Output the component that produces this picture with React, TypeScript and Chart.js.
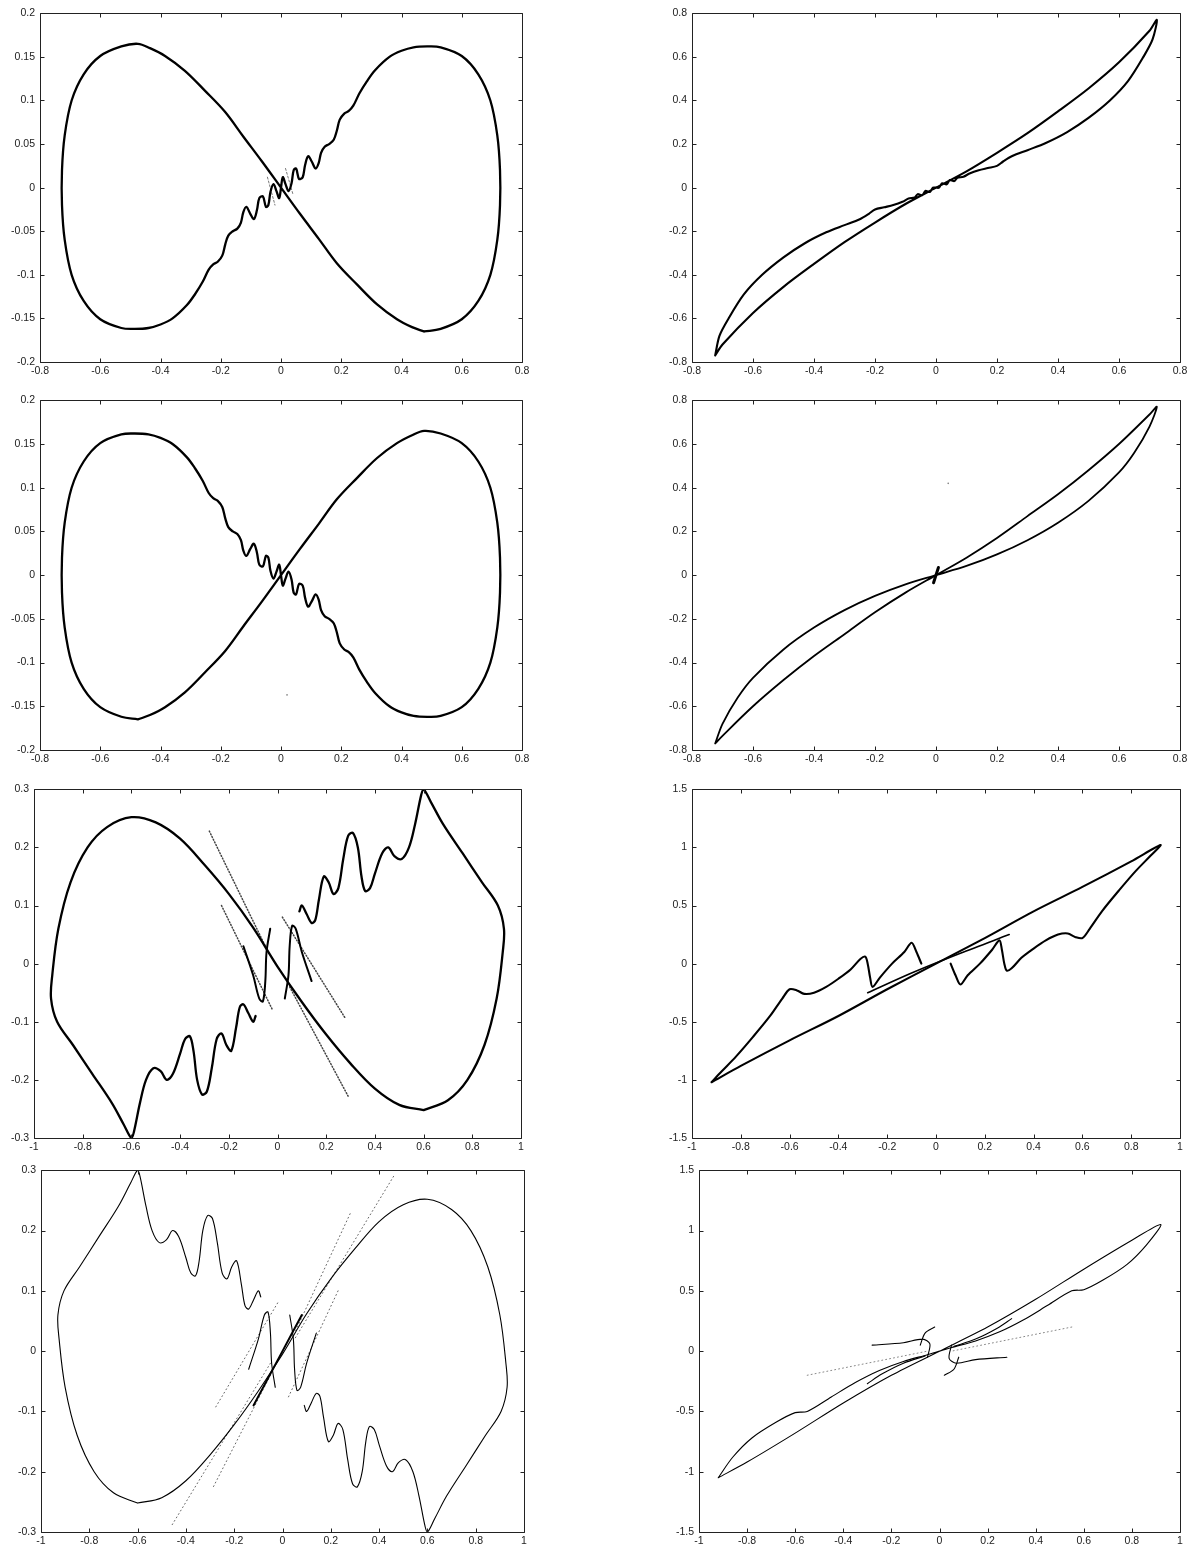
import { useEffect, useRef } from "react";
import { Chart, registerables } from "chart.js";

Chart.register(...registerables);

type Pt = [number, number];

// Axis ranges: [min, max, step]
const xRangeNarrow = [-0.8, 0.8, 0.2];
const xRangeWide = [-1, 1, 0.2];
const yRangeSmall = [-0.2, 0.2, 0.05];
const yRangeTilt = [-0.8, 0.8, 0.2];
const yRangeMid = [-0.3, 0.3, 0.1];
const yRangeLarge = [-1.5, 1.5, 0.5];

// Row 1, left: figure-eight orbit (x, y)
const orbitA: Pt[] = [
  [0.475, -0.165], [0.435, -0.16], [0.385, -0.151], [0.319, -0.134], [0.252, -0.111], [0.186, -0.087],
  [0.126, -0.059], [0.063, -0.03], [0, 0], [-0.063, 0.03], [-0.126, 0.059], [-0.186, 0.087],
  [-0.252, 0.111], [-0.319, 0.134], [-0.385, 0.151], [-0.435, 0.16], [-0.475, 0.165],
  [-0.53, 0.162], [-0.6, 0.151], [-0.655, 0.13], [-0.695, 0.1], [-0.718, 0.06], [-0.727, 0.02],
  [-0.727, -0.02], [-0.718, -0.06], [-0.695, -0.1], [-0.655, -0.13], [-0.6, -0.151], [-0.53, -0.161],
  [-0.485, -0.162], [-0.44, -0.161], [-0.4, -0.157], [-0.36, -0.15], [-0.313, -0.135],
  [-0.285, -0.122], [-0.26, -0.108], [-0.24, -0.094], [-0.225, -0.088], [-0.21, -0.085], [-0.195, -0.078],
  [-0.185, -0.065], [-0.175, -0.055], [-0.16, -0.05], [-0.145, -0.047], [-0.133, -0.04], [-0.125, -0.028],
  [-0.115, -0.022], [-0.102, -0.03], [-0.09, -0.036], [-0.08, -0.026], [-0.072, -0.012], [-0.06, -0.01],
  [-0.05, -0.022], [-0.042, -0.02], [-0.035, -0.005], [-0.025, 0.004], [-0.015, -0.004], [-0.006, -0.012],
  [0, 0], [0.006, 0.012], [0.015, 0.004], [0.025, -0.004], [0.035, 0.005], [0.042, 0.02], [0.05, 0.022],
  [0.06, 0.01], [0.072, 0.012], [0.08, 0.026], [0.09, 0.036], [0.102, 0.03], [0.115, 0.022], [0.125, 0.028],
  [0.133, 0.04], [0.145, 0.047], [0.16, 0.05], [0.175, 0.055], [0.185, 0.065], [0.195, 0.078], [0.21, 0.085],
  [0.225, 0.088], [0.24, 0.094], [0.26, 0.108], [0.285, 0.122], [0.313, 0.135], [0.36, 0.15], [0.4, 0.157],
  [0.44, 0.161], [0.485, 0.162], [0.53, 0.161], [0.6, 0.151], [0.655, 0.13], [0.695, 0.1], [0.718, 0.06],
  [0.727, 0.02], [0.727, -0.02], [0.718, -0.06], [0.695, -0.1], [0.655, -0.13], [0.6, -0.151], [0.53, -0.162],
  [0.475, -0.165],
];
const tracesA: Pt[][] = [
  [[-0.045, 0.012], [-0.02, -0.02]],
  [[0.015, 0.022], [0.04, -0.008]],
];

// Row 1, right: velocity-displacement loop
const orbitB: Pt[] = [
  [-0.724, -0.77], [-0.71, -0.68], [-0.68, -0.6], [-0.63, -0.49], [-0.57, -0.4], [-0.5, -0.32],
  [-0.43, -0.255], [-0.36, -0.205], [-0.3, -0.172], [-0.25, -0.145], [-0.22, -0.12], [-0.2, -0.1],
  [-0.17, -0.09], [-0.14, -0.08], [-0.11, -0.065], [-0.09, -0.05], [-0.07, -0.045], [-0.06, -0.03],
  [-0.045, -0.035], [-0.035, -0.015], [-0.02, -0.02], [-0.01, 0], [0, 0], [0.01, 0], [0.02, 0.02],
  [0.035, 0.015], [0.045, 0.035], [0.06, 0.03], [0.07, 0.045], [0.09, 0.05], [0.11, 0.065], [0.14, 0.08],
  [0.17, 0.09], [0.2, 0.1], [0.22, 0.12], [0.25, 0.145], [0.3, 0.172], [0.36, 0.205], [0.43, 0.255],
  [0.5, 0.32], [0.57, 0.4], [0.63, 0.49], [0.68, 0.6], [0.71, 0.68], [0.724, 0.77], [0.7, 0.72],
  [0.6, 0.575], [0.5, 0.455], [0.4, 0.35], [0.3, 0.25], [0.2, 0.16], [0.1, 0.075], [0, 0], [-0.1, -0.075],
  [-0.2, -0.16], [-0.3, -0.25], [-0.4, -0.35], [-0.5, -0.455], [-0.6, -0.575], [-0.7, -0.72], [-0.724, -0.77],
];

// Row 2, left: mirrored figure-eight
const orbitC: Pt[] = [
  [-0.475, -0.165], [-0.435, -0.16], [-0.385, -0.151], [-0.319, -0.134], [-0.252, -0.111], [-0.186, -0.087],
  [-0.126, -0.059], [-0.063, -0.03], [0, 0], [0.063, 0.03], [0.126, 0.059], [0.186, 0.087],
  [0.252, 0.111], [0.319, 0.134], [0.385, 0.151], [0.435, 0.16], [0.475, 0.165],
  [0.53, 0.162], [0.6, 0.151], [0.655, 0.13], [0.695, 0.1], [0.718, 0.06], [0.727, 0.02],
  [0.727, -0.02], [0.718, -0.06], [0.695, -0.1], [0.655, -0.13], [0.6, -0.151], [0.53, -0.161],
  [0.485, -0.162], [0.44, -0.161], [0.4, -0.157], [0.36, -0.15], [0.313, -0.135],
  [0.285, -0.122], [0.26, -0.108], [0.24, -0.094], [0.225, -0.088], [0.21, -0.085], [0.195, -0.078],
  [0.185, -0.065], [0.175, -0.055], [0.16, -0.05], [0.145, -0.047], [0.133, -0.04], [0.125, -0.028],
  [0.115, -0.022], [0.102, -0.03], [0.09, -0.036], [0.08, -0.026], [0.072, -0.012], [0.06, -0.01],
  [0.05, -0.022], [0.042, -0.02], [0.035, -0.005], [0.025, 0.004], [0.015, -0.004], [0.006, -0.012],
  [0, 0], [-0.006, 0.012], [-0.015, 0.004], [-0.025, -0.004], [-0.035, 0.005], [-0.042, 0.02], [-0.05, 0.022],
  [-0.06, 0.01], [-0.072, 0.012], [-0.08, 0.026], [-0.09, 0.036], [-0.102, 0.03], [-0.115, 0.022], [-0.125, 0.028],
  [-0.133, 0.04], [-0.145, 0.047], [-0.16, 0.05], [-0.175, 0.055], [-0.185, 0.065], [-0.195, 0.078], [-0.21, 0.085],
  [-0.225, 0.088], [-0.24, 0.094], [-0.26, 0.108], [-0.285, 0.122], [-0.313, 0.135], [-0.36, 0.15], [-0.4, 0.157],
  [-0.44, 0.161], [-0.485, 0.162], [-0.53, 0.161], [-0.6, 0.151], [-0.655, 0.13], [-0.695, 0.1], [-0.718, 0.06],
  [-0.727, 0.02], [-0.727, -0.02], [-0.718, -0.06], [-0.695, -0.1], [-0.655, -0.13], [-0.6, -0.151], [-0.53, -0.162],
  [-0.475, -0.165],
];
const strayC: Pt[] = [[0.02, -0.137]];

// Row 2, right: smooth loop
const orbitD: Pt[] = [
  [-0.724, -0.77], [-0.7, -0.68], [-0.65, -0.56], [-0.6, -0.47], [-0.5, -0.34], [-0.4, -0.24],
  [-0.3, -0.16], [-0.2, -0.095], [-0.1, -0.042], [0, 0], [0.1, 0.042], [0.2, 0.095], [0.3, 0.16],
  [0.4, 0.24], [0.5, 0.34], [0.6, 0.47], [0.65, 0.56], [0.7, 0.68], [0.724, 0.77], [0.7, 0.735],
  [0.6, 0.6], [0.5, 0.48], [0.4, 0.37], [0.3, 0.27], [0.2, 0.17], [0.1, 0.08], [0, 0], [-0.1, -0.08],
  [-0.2, -0.17], [-0.3, -0.27], [-0.4, -0.37], [-0.5, -0.48], [-0.6, -0.6], [-0.7, -0.735], [-0.724, -0.77],
];
const centreD: Pt[] = [[-0.008, -0.035], [0.008, 0.035]];
const strayD: Pt[] = [[0.04, 0.42]];

// Row 3, left: perturbed figure-eight
const orbitE: Pt[] = [
  [0.6, -0.252], [0.5, -0.243], [0.4, -0.215], [0.3, -0.172], [0.2, -0.122], [0.1, -0.066], [0.0, -0.005],
  [-0.1, 0.062], [-0.2, 0.12], [-0.3, 0.17], [-0.4, 0.215], [-0.5, 0.243], [-0.6, 0.252], [-0.7, 0.235],
  [-0.78, 0.2], [-0.85, 0.14], [-0.9, 0.06], [-0.925, -0.02], [-0.93, -0.06], [-0.905, -0.1], [-0.84, -0.14],
  [-0.76, -0.19], [-0.68, -0.24], [-0.63, -0.278], [-0.6, -0.3], [-0.59, -0.29], [-0.565, -0.24],
  [-0.54, -0.2], [-0.51, -0.18], [-0.48, -0.185], [-0.455, -0.2], [-0.43, -0.19], [-0.4, -0.155],
  [-0.38, -0.13], [-0.36, -0.125], [-0.345, -0.15], [-0.33, -0.2], [-0.31, -0.225], [-0.29, -0.22],
  [-0.27, -0.18], [-0.25, -0.13], [-0.23, -0.12], [-0.21, -0.14], [-0.19, -0.15], [-0.17, -0.11],
  [-0.155, -0.075], [-0.14, -0.07], [-0.12, -0.085], [-0.1, -0.1], [-0.09, -0.09],
];
const orbitE2: Pt[] = [
  [0.09, 0.09], [0.1, 0.1], [0.12, 0.085], [0.14, 0.07], [0.155, 0.075], [0.17, 0.11], [0.19, 0.15],
  [0.21, 0.14], [0.23, 0.12], [0.25, 0.13], [0.27, 0.18], [0.29, 0.22], [0.31, 0.225], [0.33, 0.2],
  [0.345, 0.15], [0.36, 0.125], [0.38, 0.13], [0.4, 0.155], [0.43, 0.19], [0.455, 0.2], [0.48, 0.185],
  [0.51, 0.18], [0.54, 0.2], [0.565, 0.24], [0.59, 0.29], [0.6, 0.3], [0.63, 0.278], [0.68, 0.24],
  [0.76, 0.19], [0.84, 0.14], [0.905, 0.1], [0.93, 0.06], [0.925, 0.02], [0.9, -0.06], [0.85, -0.14],
  [0.78, -0.2], [0.7, -0.235], [0.6, -0.252],
];
const innerE: Pt[][] = [
  [[-0.14, 0.03], [-0.1, -0.02], [-0.075, -0.06], [-0.06, -0.065], [-0.05, -0.03], [-0.045, 0.02], [-0.03, 0.06]],
  [[0.14, -0.03], [0.1, 0.02], [0.075, 0.06], [0.06, 0.065], [0.05, 0.03], [0.045, -0.02], [0.03, -0.06]],
];
const streaksE: Pt[][] = [
  [[-0.28, 0.228], [-0.05, 0.03]],
  [[0.05, -0.04], [0.29, -0.228]],
  [[-0.23, 0.1], [-0.02, -0.08]],
  [[0.02, 0.08], [0.28, -0.095]],
];

// Row 3, right
const orbitF: Pt[] = [
  [-0.92, -1.02], [-0.88, -0.93], [-0.82, -0.8], [-0.75, -0.63], [-0.68, -0.45], [-0.63, -0.3],
  [-0.6, -0.22], [-0.57, -0.23], [-0.54, -0.26], [-0.5, -0.25], [-0.45, -0.2], [-0.4, -0.13],
  [-0.35, -0.05], [-0.31, 0.04], [-0.29, 0.06], [-0.28, 0.0], [-0.27, -0.12], [-0.26, -0.2],
  [-0.23, -0.12], [-0.18, 0.0], [-0.13, 0.1], [-0.1, 0.18], [-0.08, 0.1], [-0.06, 0.0],
];
const orbitF2: Pt[] = [
  [0.06, 0.0], [0.08, -0.1], [0.1, -0.18], [0.13, -0.1], [0.18, 0.0], [0.23, 0.12], [0.26, 0.2],
  [0.27, 0.12], [0.28, 0.0], [0.29, -0.06], [0.31, -0.04], [0.35, 0.05], [0.4, 0.13], [0.45, 0.2],
  [0.5, 0.25], [0.54, 0.26], [0.57, 0.23], [0.6, 0.22], [0.63, 0.3], [0.68, 0.45], [0.75, 0.63],
  [0.82, 0.8], [0.88, 0.93], [0.92, 1.02], [0.8, 0.88], [0.6, 0.66], [0.4, 0.45], [0.2, 0.22],
  [0, 0], [-0.2, -0.22], [-0.4, -0.45], [-0.6, -0.66], [-0.8, -0.88], [-0.92, -1.02],
];
const innerF: Pt[][] = [
  [[-0.28, -0.25], [-0.1, -0.08], [0.1, 0.09], [0.3, 0.25]],
];

// Row 4, left: mirrored perturbed figure-eight
const orbitG: Pt[] = [
  [-0.6, -0.252], [-0.5, -0.243], [-0.4, -0.215], [-0.3, -0.172], [-0.2, -0.122], [-0.1, -0.066], [0.0, -0.005],
  [0.1, 0.062], [0.2, 0.12], [0.3, 0.17], [0.4, 0.215], [0.5, 0.243], [0.6, 0.252], [0.7, 0.235],
  [0.78, 0.2], [0.85, 0.14], [0.9, 0.06], [0.925, -0.02], [0.93, -0.06], [0.905, -0.1], [0.84, -0.14],
  [0.76, -0.19], [0.68, -0.24], [0.63, -0.278], [0.6, -0.3], [0.59, -0.29], [0.565, -0.24],
  [0.54, -0.2], [0.51, -0.18], [0.48, -0.185], [0.455, -0.2], [0.43, -0.19], [0.4, -0.155],
  [0.38, -0.13], [0.36, -0.125], [0.345, -0.15], [0.33, -0.2], [0.31, -0.225], [0.29, -0.22],
  [0.27, -0.18], [0.25, -0.13], [0.23, -0.12], [0.21, -0.14], [0.19, -0.15], [0.17, -0.11],
  [0.155, -0.075], [0.14, -0.07], [0.12, -0.085], [0.1, -0.1], [0.09, -0.09],
];
const orbitG2: Pt[] = [
  [-0.09, 0.09], [-0.1, 0.1], [-0.12, 0.085], [-0.14, 0.07], [-0.155, 0.075], [-0.17, 0.11], [-0.19, 0.15],
  [-0.21, 0.14], [-0.23, 0.12], [-0.25, 0.13], [-0.27, 0.18], [-0.29, 0.22], [-0.31, 0.225], [-0.33, 0.2],
  [-0.345, 0.15], [-0.36, 0.125], [-0.38, 0.13], [-0.4, 0.155], [-0.43, 0.19], [-0.455, 0.2], [-0.48, 0.185],
  [-0.51, 0.18], [-0.54, 0.2], [-0.565, 0.24], [-0.59, 0.29], [-0.6, 0.3], [-0.63, 0.278], [-0.68, 0.24],
  [-0.76, 0.19], [-0.84, 0.14], [-0.905, 0.1], [-0.93, 0.06], [-0.925, 0.02], [-0.9, -0.06], [-0.85, -0.14],
  [-0.78, -0.2], [-0.7, -0.235], [-0.6, -0.252],
];
const innerG: Pt[][] = [
  [[0.14, 0.03], [0.1, -0.02], [0.075, -0.06], [0.06, -0.065], [0.05, -0.03], [0.045, 0.02], [0.03, 0.06]],
  [[-0.14, -0.03], [-0.1, 0.02], [-0.075, 0.06], [-0.06, 0.065], [-0.05, 0.03], [-0.045, -0.02], [-0.03, -0.06]],
];
const coreG: Pt[] = [[-0.12, -0.09], [0, 0], [0.08, 0.06]];
const streaksG: Pt[][] = [
  [[0.28, 0.228], [0.05, 0.03]],
  [[-0.05, -0.04], [-0.29, -0.228]],
  [[0.23, 0.1], [0.02, -0.08]],
  [[-0.02, 0.08], [-0.28, -0.095]],
  [[0.46, 0.29], [0.05, 0.02]],
  [[-0.05, -0.02], [-0.46, -0.29]],
];

// Row 4, right
const orbitH: Pt[] = [
  [-0.92, -1.05], [-0.86, -0.88], [-0.78, -0.72], [-0.68, -0.59], [-0.6, -0.51], [-0.55, -0.5],
  [-0.45, -0.38], [-0.35, -0.26], [-0.25, -0.16], [-0.15, -0.085], [-0.05, -0.03], [0, 0], [0.05, 0.03],
  [0.15, 0.085], [0.25, 0.16], [0.35, 0.26], [0.45, 0.38], [0.55, 0.5], [0.6, 0.51], [0.68, 0.59],
  [0.78, 0.72], [0.86, 0.88], [0.92, 1.05], [0.8, 0.92], [0.6, 0.68], [0.4, 0.43], [0.2, 0.2], [0, 0],
  [-0.2, -0.2], [-0.4, -0.43], [-0.6, -0.68], [-0.8, -0.92], [-0.92, -1.05],
];
const hooksH: Pt[][] = [
  [[-0.28, 0.05], [-0.15, 0.07], [-0.07, 0.1], [-0.04, 0.06], [-0.05, -0.05]],
  [[0.28, -0.05], [0.15, -0.07], [0.07, -0.1], [0.04, -0.06], [0.05, 0.05]],
  [[-0.02, 0.2], [-0.06, 0.15], [-0.08, 0.05]],
  [[0.02, -0.2], [0.06, -0.15], [0.08, -0.05]],
  [[0.06, 0.04], [0.15, 0.1], [0.24, 0.19], [0.3, 0.27]],
  [[-0.06, -0.04], [-0.15, -0.1], [-0.24, -0.19], [-0.3, -0.27]],
];
const streaksH: Pt[][] = [
  [[-0.55, -0.2], [-0.05, 0.0]],
  [[0.55, 0.2], [0.05, 0.0]],
];

type Layer = {
  paths: Pt[][];
  width: number;
  color: string;
  dash?: number[];
  tension?: number;
  dot?: number;
};

type PanelSpec = {
  left: number;
  right: number;
  top: number;
  bottom: number;
  xr: number[];
  yr: number[];
  layers: Layer[];
};

const INK = "#000000";
const FAINT = "#777777";

const panels: PanelSpec[] = [
  {
    left: 40, right: 522, top: 12, bottom: 362, xr: xRangeNarrow, yr: yRangeSmall,
    layers: [
      { paths: [orbitA], width: 2.3, color: INK, tension: 0.35 },
      { paths: tracesA, width: 1, color: FAINT, dash: [2, 2] },
    ],
  },
  {
    left: 692, right: 1180, top: 12, bottom: 362, xr: xRangeNarrow, yr: yRangeTilt,
    layers: [{ paths: [orbitB], width: 2.1, color: INK, tension: 0.3 }],
  },
  {
    left: 40, right: 522, top: 399, bottom: 750, xr: xRangeNarrow, yr: yRangeSmall,
    layers: [
      { paths: [orbitC], width: 2.3, color: INK, tension: 0.35 },
      { paths: [strayC], width: 1, color: FAINT, dot: 0.8 },
    ],
  },
  {
    left: 692, right: 1180, top: 399, bottom: 750, xr: xRangeNarrow, yr: yRangeTilt,
    layers: [
      { paths: [orbitD], width: 1.8, color: INK, tension: 0.3 },
      { paths: [centreD], width: 3, color: INK },
      { paths: [strayD], width: 1, color: FAINT, dot: 0.8 },
    ],
  },
  {
    left: 34, right: 521, top: 788, bottom: 1138, xr: xRangeWide, yr: yRangeMid,
    layers: [
      { paths: [orbitE, orbitE2], width: 2.3, color: INK, tension: 0.35 },
      { paths: innerE, width: 2, color: INK, tension: 0.35 },
      { paths: streaksE, width: 1.5, color: "#444444", dash: [1, 2] },
    ],
  },
  {
    left: 692, right: 1180, top: 788, bottom: 1138, xr: xRangeWide, yr: yRangeLarge,
    layers: [
      { paths: [orbitF, orbitF2], width: 2.1, color: INK, tension: 0.3 },
      { paths: innerF, width: 1.6, color: INK, tension: 0.3 },
    ],
  },
  {
    left: 41, right: 524, top: 1169, bottom: 1532, xr: xRangeWide, yr: yRangeMid,
    layers: [
      { paths: [orbitG, orbitG2], width: 1.1, color: INK, tension: 0.35 },
      { paths: innerG, width: 1.1, color: INK, tension: 0.35 },
      { paths: [coreG], width: 2, color: INK, tension: 0.3 },
      { paths: streaksG, width: 1, color: "#666666", dash: [1, 3] },
    ],
  },
  {
    left: 699, right: 1180, top: 1169, bottom: 1532, xr: xRangeWide, yr: yRangeLarge,
    layers: [
      { paths: [orbitH], width: 1.1, color: INK, tension: 0.3 },
      { paths: hooksH, width: 1.1, color: INK, tension: 0.3 },
      { paths: streaksH, width: 1, color: "#888888", dash: [1, 3] },
    ],
  },
];

const AXIS_W = 46;
const AXIS_H = 26;
const PAD_T = 10;
const PAD_R = 16;
const TICK_FONT = { family: "'Liberation Sans', Arial, Helvetica, sans-serif", size: 10.5 };

const fmt = (v: number | string) => {
  const n = Number(Number(v).toFixed(3));
  return String(Object.is(n, -0) ? 0 : n);
};

// Closed gnuplot-style frame with inward ticks on all four sides
const framePlugin = {
  id: "frameTicks",
  afterDraw(chart: any) {
    const { ctx, chartArea: a, scales } = chart;
    const L = Math.round(a.left) + 0.5;
    const R = Math.round(a.right) + 0.5;
    const T = Math.round(a.top) + 0.5;
    const B = Math.round(a.bottom) + 0.5;
    const len = 4;
    ctx.save();
    ctx.strokeStyle = "#222222";
    ctx.lineWidth = 1;
    ctx.beginPath();
    ctx.rect(L, T, R - L, B - T);
    scales.x.ticks.forEach((t: any) => {
      const px = Math.round(scales.x.getPixelForValue(t.value)) + 0.5;
      ctx.moveTo(px, B);
      ctx.lineTo(px, B - len);
      ctx.moveTo(px, T);
      ctx.lineTo(px, T + len);
    });
    scales.y.ticks.forEach((t: any) => {
      const py = Math.round(scales.y.getPixelForValue(t.value)) + 0.5;
      ctx.moveTo(L, py);
      ctx.lineTo(L + len, py);
      ctx.moveTo(R, py);
      ctx.lineTo(R - len, py);
    });
    ctx.stroke();
    ctx.restore();
  },
};

function toData(paths: Pt[][]) {
  const out: { x: number | null; y: number | null }[] = [];
  paths.forEach((p, i) => {
    if (i > 0) out.push({ x: null, y: null });
    p.forEach(([x, y]) => out.push({ x, y }));
  });
  return out;
}

function Panel({ spec }: { spec: PanelSpec }) {
  const ref = useRef<HTMLCanvasElement>(null);
  const w = spec.right - spec.left + AXIS_W + PAD_R;
  const h = spec.bottom - spec.top + PAD_T + AXIS_H;

  useEffect(() => {
    const canvas = ref.current;
    if (!canvas) return;
    const datasets = spec.layers.map((ly) => ({
      data: toData(ly.paths),
      showLine: !ly.dot,
      spanGaps: false,
      borderColor: ly.color,
      backgroundColor: ly.color,
      borderWidth: ly.width,
      borderDash: ly.dash || [],
      borderCapStyle: "round" as const,
      borderJoinStyle: "round" as const,
      tension: ly.tension || 0,
      pointRadius: ly.dot || 0,
      pointBorderWidth: 0,
      fill: false,
    }));
    const axis = (r: number[], isX: boolean) => ({
      type: "linear" as const,
      min: r[0],
      max: r[1],
      grid: { display: false, drawTicks: false },
      border: { display: false },
      ticks: {
        stepSize: r[2],
        autoSkip: false,
        maxRotation: 0,
        padding: isX ? 3 : 5,
        color: "#222222",
        font: TICK_FONT,
        callback: (v: number | string) => fmt(v),
      },
      afterFit: (s: any) => {
        if (isX) s.height = AXIS_H;
        else s.width = AXIS_W;
      },
    });
    const chart = new Chart(canvas, {
      type: "scatter",
      data: { datasets },
      options: {
        animation: false,
        responsive: false,
        maintainAspectRatio: false,
        events: [],
        layout: { padding: { top: PAD_T, right: PAD_R, left: 0, bottom: 0 } },
        plugins: { legend: { display: false }, tooltip: { enabled: false } },
        scales: { x: axis(spec.xr, true), y: axis(spec.yr, false) },
      },
      plugins: [framePlugin],
    });
    return () => chart.destroy();
  }, [spec]);

  return (
    <canvas
      ref={ref}
      width={w}
      height={h}
      style={{ position: "absolute", left: spec.left - AXIS_W, top: spec.top - PAD_T, width: w, height: h }}
    />
  );
}

export default function App() {
  return (
    <div style={{ position: "absolute", left: 0, top: 0, width: 1194, height: 1552, background: "#ffffff" }}>
      {panels.map((p, i) => (
        <Panel key={i} spec={p} />
      ))}
    </div>
  );
}
